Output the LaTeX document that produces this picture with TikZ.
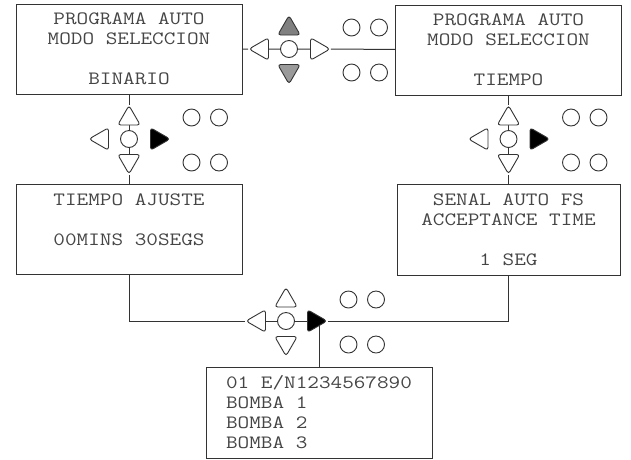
\documentclass[tikz,border=0pt]{standalone}
\usepackage{fontspec}
\newfontfamily\lcdfont[FakeStretch=1.2]{Latin Modern Mono}
\usepackage{tikz}
\usetikzlibrary{shapes.geometric, backgrounds}
\usepackage{xcolor}
\definecolor{linec}{HTML}{333333}
\definecolor{textc}{HTML}{454545}
\definecolor{grayup}{HTML}{808080}
\definecolor{graydn}{HTML}{9A9A9A}

\begin{document}
\begin{tikzpicture}[x=1pt, y=-1pt,
    box/.style={draw=linec, line width=1pt, minimum width=226pt, minimum height=90pt,
        inner sep=0pt, text=textc, align=center, font=\lcdfont\fontsize{18.8}{20}\selectfont},
    key/.style={circle, draw=linec, line width=0.9pt, fill=white, minimum size=17pt, inner sep=0pt},
    arr/.style={regular polygon, regular polygon sides=3, draw=linec, line width=0.9pt,
        minimum size=26pt, inner sep=0pt, rounded corners=3pt},
    wire/.style={draw=linec, line width=1pt}]
    \useasboundingbox (0,0) rectangle (631,459);

    % Anzeigen
    \node[box] (binario) at (129,49) {PROGRAMA AUTO\\MODO SELECCION\\ ~\\BINARIO};
    \node[box] (tiempo) at (508.5,50) {PROGRAMA AUTO\\MODO SELECCION\\ ~\\TIEMPO};
    \node[box] (ajuste) at (129,229.5) {TIEMPO AJUSTE\\ ~\\00MINS 30SEGS\\ ~};
    \node[box, minimum width=223pt, minimum height=91pt] (senal) at (508.5,229.5)
        {SENAL AUTO FS\\ACCEPTANCE TIME\\ ~\\1 SEG};
    \node[box, align=left, minimum height=91pt] (bomba) at (319,412.5)
        {01 E/N1234567890\\BOMBA 1\\BOMBA 2\\BOMBA 3};

    % Tastenfelder
    \foreach \k/\x/\y/\uf/\df/\rf in {a/289/49/grayup/graydn/white,
        b/129/139/white/white/black, c/508.5/139/white/white/black, d/286/321/white/white/black} {
        \node[key] (\k-c) at (\x,\y) {};
        \node[arr, shape border rotate=90, fill=white] (\k-l) at (\x-27,\y) {};
        \node[arr, shape border rotate=-90, fill=\rf] (\k-r) at (\x+28,\y) {};
        \node[arr, fill=\uf] (\k-u) at (\x,\y-20.5) {};
        \node[arr, shape border rotate=180, fill=\df] (\k-d) at (\x,\y+22) {};
        \node[key] (\k-o1) at (\x+62.5,\y-21.5) {};
        \node[key] (\k-o2) at (\x+90,\y-21.5) {};
        \node[key] (\k-o3) at (\x+62.5,\y+23.5) {};
        \node[key] (\k-o4) at (\x+90,\y+23.5) {};
    }

    % Verbindungen
    \begin{pgfonlayer}{background}
        \draw[wire] (binario) -- (a-l) -- (a-c) -- (a-r) -- (tiempo);
        \draw[wire] (binario) -- (b-u) -- (b-c) -- (b-d) -- (ajuste);
        \draw[wire] (tiempo) -- (c-u) -- (c-c) -- (c-d) -- (senal);
        \draw[wire] (ajuste) |- (d-l) -- (d-c) -- (d-r);
        \draw[wire] (d-r) -| (senal);
        \draw[wire] (bomba) -- (bomba |- d-r);
    \end{pgfonlayer}
\end{tikzpicture}
\end{document}
